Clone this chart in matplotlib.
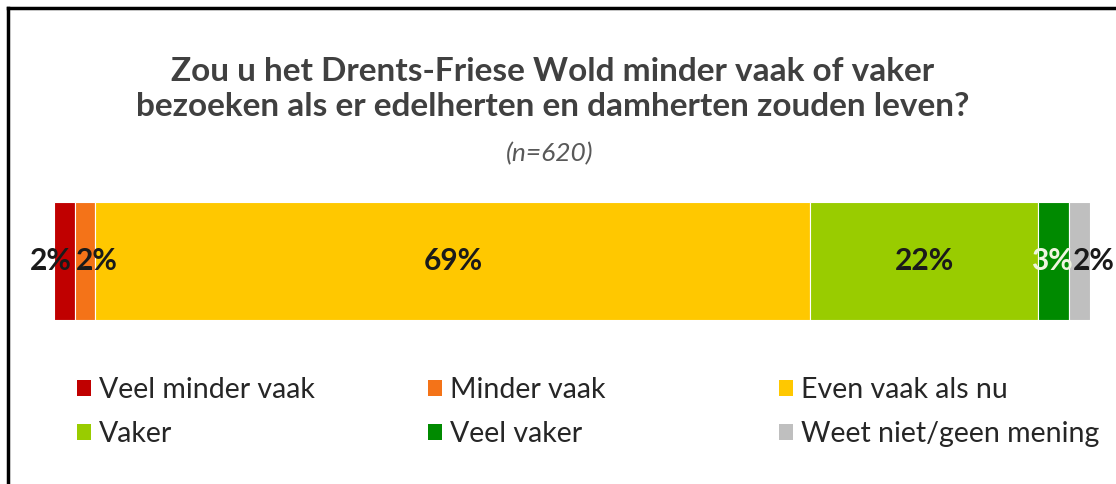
import matplotlib.pyplot as plt
from matplotlib.patches import Patch
from matplotlib.lines import Line2D

categories = ["Veel minder vaak", "Minder vaak", "Even vaak als nu",
              "Vaker", "Veel vaker", "Weet niet/geen mening"]
values = [2, 2, 69, 22, 3, 2]
colors = ["#C00000", "#F47318", "#FFC800", "#99CC00", "#008A00", "#BFBFBF"]
label_colors = ["#1a1a1a", "#1a1a1a", "#1a1a1a", "#1a1a1a", "#F0F5E0", "#1a1a1a"]
# where each value label sits on its segment (small ones are pushed aside)
label_anchor = ["right", "left", "center", "center", "center", "left"]
label_nudge = [-2, 1, 0, 0, -1, 2.5]  # points

title = "Zou u het Drents-Friese Wold minder vaak of vaker\nbezoeken als er edelherten en damherten zouden leven?"
subtitle = "(n=620)"

plt.rcParams["font.family"] = ["Lato", "DejaVu Sans"]

fig = plt.figure(figsize=(11.16, 4.84), dpi=100)
ax = fig.add_axes([54 / 1116, 1 - 320 / 484, (1090 - 54) / 1116, 118 / 484])

left = 0
for cat, val, col, lcol, anc, dx in zip(categories, values, colors, label_colors,
                                        label_anchor, label_nudge):
    ax.barh(0, val, left=left, height=1.0, color=col, edgecolor="white", linewidth=0.8, label=cat)
    x = {"left": left, "center": left + val / 2, "right": left + val}[anc]
    ax.annotate(f"{val}%", (x, 0), xytext=(dx, 0), textcoords="offset points",
                ha=anc, va="center", fontsize=21.5, fontweight="bold", color=lcol,
                annotation_clip=False)
    left += val

ax.set_xlim(0, sum(values))
ax.set_ylim(-0.5, 0.5)
ax.axis("off")

fig.text(553 / 1116, 1 - 89 / 484, title, ha="center", va="center",
         fontsize=24, fontweight="bold", color="#404040", linespacing=1.27)
fig.text(550 / 1116, 1 - 154 / 484, subtitle, ha="center", va="center",
         fontsize=19, style="italic", color="#595959")

# legend in three columns of equal width, row-major order like the original
handles = [Patch(facecolor=c, edgecolor="none") for c in colors]
col_x = [66, 417, 768]
for i, x in enumerate(col_x):
    idx = [i, i + 3]
    leg = fig.legend([handles[j] for j in idx], [categories[j] for j in idx],
                     loc="upper left", bbox_to_anchor=(x / 1116, 1 - 366 / 484),
                     frameon=False, fontsize=20.5, handlelength=0.47, handleheight=0.47,
                     handletextpad=0.3, labelspacing=0.63, borderaxespad=0)
    for t in leg.get_texts():
        t.set_color("#262626")

# frame lines on the left and top edge
fig.add_artist(Line2D([8 / 1116, 8 / 1116], [0, 1 - 8 / 484], color="black", lw=2.5))
fig.add_artist(Line2D([8 / 1116, 1], [1 - 8 / 484, 1 - 8 / 484], color="black", lw=2.5))

fig.savefig("out.png", dpi=100)
